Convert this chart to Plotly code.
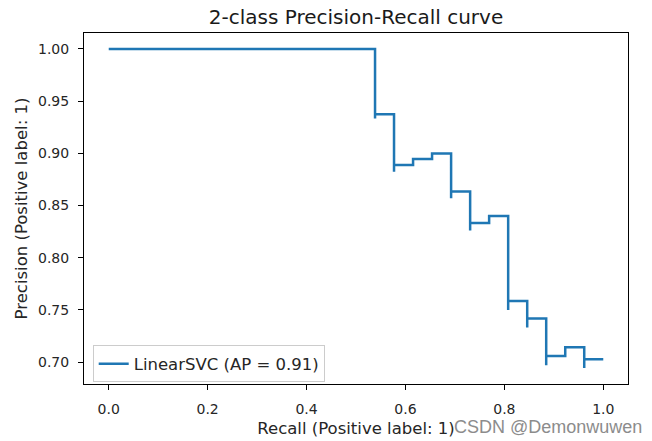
import plotly.graph_objects as go

# Precision-recall points (sklearn order: recall decreasing), drawn as steps-post
recall = [1.0, 0.9615, 0.9615, 0.9231, 0.8846, 0.8846, 0.8846, 0.8462, 0.8462,
          0.8077, 0.8077, 0.8077, 0.8077, 0.7692, 0.7308, 0.7308, 0.6923, 0.6923,
          0.6538, 0.6154, 0.5769, 0.5769, 0.5385, 0.5385, 0.0]
precision = [0.7027, 0.6944, 0.7143, 0.7059, 0.6970, 0.7188, 0.7419, 0.7333, 0.7586,
             0.7500, 0.7778, 0.8077, 0.8400, 0.8333, 0.8261, 0.8636, 0.8571, 0.9000,
             0.8947, 0.8889, 0.8824, 0.9375, 0.9333, 1.0, 1.0]

series_name = "LinearSVC (AP = 0.91)"
title_text = "2-class Precision-Recall curve"
x_label = "Recall (Positive label: 1)"
y_label = "Precision (Positive label: 1)"
x_ticks = [0.0, 0.2, 0.4, 0.6, 0.8, 1.0]
x_ticklabels = ["0.0", "0.2", "0.4", "0.6", "0.8", "1.0"]
y_ticks = [0.70, 0.75, 0.80, 0.85, 0.90, 0.95, 1.00]
y_ticklabels = ["0.70", "0.75", "0.80", "0.85", "0.90", "0.95", "1.00"]
watermark = "CSDN @Demonwuwen"

FONT = "DejaVu Sans"
TXT = "#262626"

fig = go.Figure()
fig.add_trace(go.Scatter(
    x=recall, y=precision, mode="lines", name=series_name,
    line=dict(color="#1f77b4", width=2.5, shape="hv"),
    showlegend=True,
))

axis_common = dict(
    showgrid=False, zeroline=False, showline=True, mirror=True,
    linecolor="black", linewidth=1, ticks="outside", ticklen=5,
    tickcolor="black", tickwidth=1, automargin=False,
    tickfont=dict(family=FONT, size=14, color=TXT),
)

fig.update_layout(
    width=652, height=441,
    margin=dict(l=84, r=24, t=33, b=57),
    paper_bgcolor="white", plot_bgcolor="white",
    title=dict(text=title_text, x=0.5, xref="paper", xanchor="center",
               y=1 - 17 / 441, yref="container", yanchor="middle",
               font=dict(family=FONT, size=20, color="#1a1a1a")),
    xaxis=dict(range=[-0.05, 1.05], tickvals=x_ticks, ticktext=x_ticklabels,
               ticklabelstandoff=7,
               title=dict(text=x_label, font=dict(family=FONT, size=16.5, color=TXT),
                          standoff=6),
               **axis_common),
    yaxis=dict(range=[0.6791, 1.0153], tickvals=y_ticks, ticktext=y_ticklabels,
               ticklabelstandoff=6,
               title=dict(text=y_label, font=dict(family=FONT, size=16.5, color=TXT),
                          standoff=6),
               **axis_common),
    legend=dict(x=0.016, y=0.057, xanchor="left", yanchor="middle",
                bgcolor="rgba(255,255,255,0.8)", bordercolor="#cccccc",
                borderwidth=1, font=dict(family=FONT, size=16.5, color=TXT)),
    annotations=[dict(text=watermark, xref="paper", yref="paper",
                      x=(452 - 84) / 544, y=(384 - 427) / 351,
                      xanchor="left", yanchor="middle", showarrow=False,
                      font=dict(family="Liberation Sans", size=18, color="#8c8c8c"))],
)

fig.write_html("out.html", config={"displayModeBar": False},
               post_script="document.body.style.margin='0px';document.body.style.padding='0px';")
